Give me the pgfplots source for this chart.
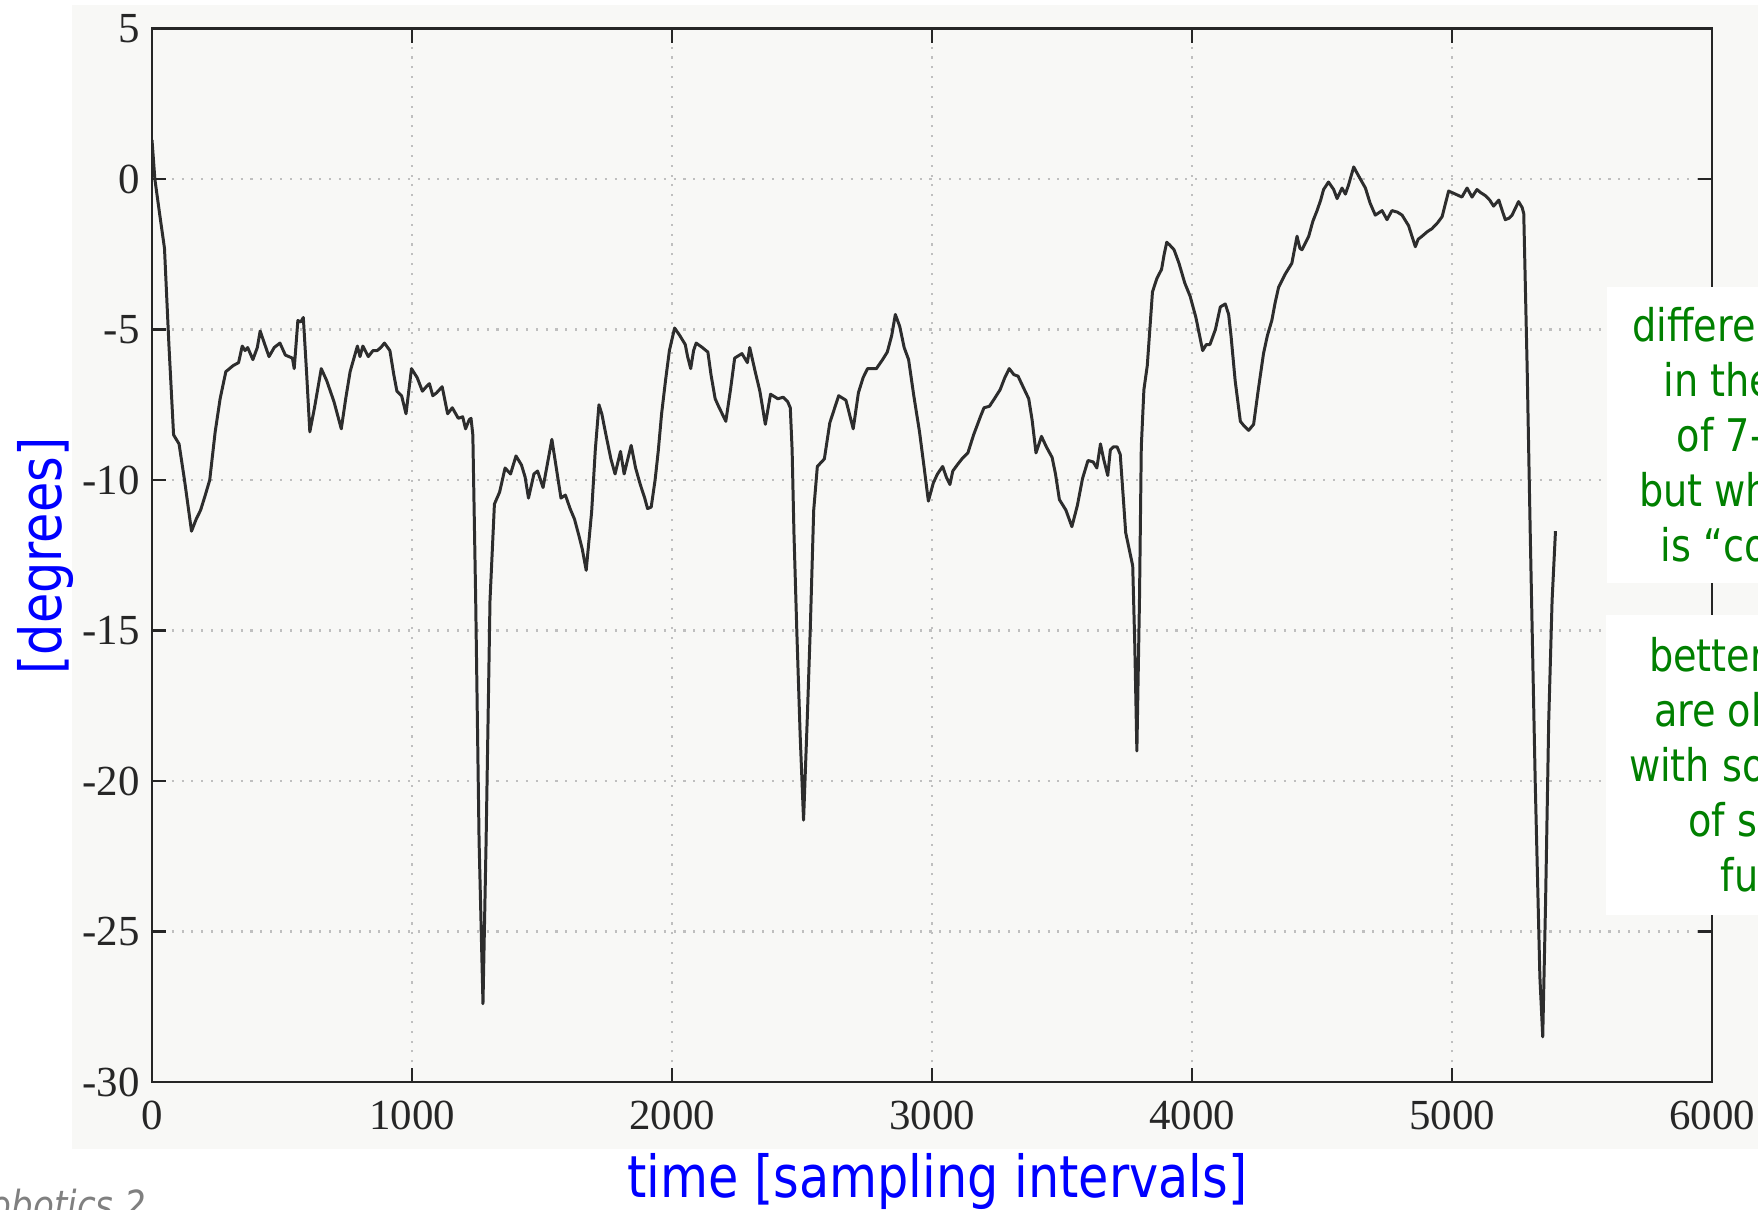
\documentclass[border=0pt]{standalone}
\usepackage{pgfplots}
\pgfplotsset{compat=1.18}
\usepackage{fontspec}
\setmainfont{Liberation Serif}
\newfontfamily\tah[FakeStretch=0.85]{DejaVu Sans}
\definecolor{bgscan}{RGB}{248,248,246}
\definecolor{gtxt}{RGB}{0,128,0}
\definecolor{btxt}{RGB}{0,0,255}
\definecolor{curve}{RGB}{45,45,45}
\begin{document}
\begin{tikzpicture}[x=1cm,y=1cm]
\path[use as bounding box] (0,0) rectangle (17.58,-12.10);
\fill[bgscan] (0.72,-0.05) rectangle (17.58,-11.49);
\begin{axis}[
  at={(1.52cm,-10.82cm)}, anchor=south west,
  scale only axis, width=15.6cm, height=10.535cm,
  xmin=0, xmax=6000, ymin=-30, ymax=5,
  xtick={0,1000,...,6000}, ytick={-30,-25,...,5},
  tick align=inside, major tick length=0.14cm,
  grid=major,
  grid style={line width=0.6pt, color=black!25, dash pattern=on 0.6pt off 2.2pt},
  axis line style={line width=0.8pt, color=black!85},
  tick style={line width=0.8pt, color=black!85},
  every tick label/.append style={font=\fontsize{12.2}{14}\selectfont, text=black!85},
  /pgf/number format/assume math mode=true,
  xticklabel style={/pgf/number format/1000 sep={}, yshift=-2pt},
  scaled x ticks=false,
]
\addplot[curve, line width=0.85pt, line join=round] coordinates {
(0,1.3) (11,0.0) (30,-1.2) (48,-2.3) (65,-5.5) (83,-8.5) (104,-8.8) (125,-10.0) (152,-11.7) (170,-11.3) (187,-11.0) (205,-10.5) (222,-10.0) (243,-8.4) (262,-7.3) (284,-6.4) (312,-6.2) (333,-6.1) (347,-5.55) (358,-5.7) (368,-5.6) (388,-6.0) (405,-5.6) (416,-5.05) (430,-5.4) (450,-5.9) (470,-5.6) (492,-5.45) (513,-5.85) (540,-5.95) (547,-6.3) (561,-4.7) (572,-4.75) (582,-4.6) (595,-6.5) (607,-8.4) (625,-7.6) (651,-6.3) (672,-6.7) (700,-7.4) (728,-8.3) (745,-7.3) (762,-6.4) (790,-5.55) (800,-5.9) (811,-5.55) (832,-5.9) (850,-5.7) (866,-5.7) (880,-5.6) (894,-5.45) (915,-5.7) (930,-6.5) (942,-7.05) (960,-7.2) (977,-7.8) (998,-6.3) (1020,-6.6) (1040,-7.05) (1055,-6.9) (1067,-6.8) (1080,-7.2) (1095,-7.1) (1116,-6.9) (1137,-7.8) (1155,-7.6) (1178,-7.95) (1195,-7.9) (1206,-8.3) (1220,-8.0) (1227,-7.95) (1234,-8.5) (1245,-14.0) (1258,-22.0) (1273,-27.4) (1285,-22.0) (1300,-14.0) (1317,-10.8) (1337,-10.4) (1358,-9.6) (1379,-9.8) (1400,-9.2) (1421,-9.5) (1435,-9.9) (1448,-10.6) (1469,-9.8) (1483,-9.7) (1504,-10.25) (1520,-9.5) (1538,-8.65) (1555,-9.6) (1573,-10.6) (1590,-10.5) (1608,-10.95) (1625,-11.3) (1642,-11.85) (1655,-12.3) (1670,-13.0) (1691,-11.05) (1705,-9.0) (1719,-7.5) (1730,-7.8) (1746,-8.5) (1765,-9.3) (1781,-9.8) (1802,-9.05) (1816,-9.8) (1830,-9.3) (1843,-8.85) (1860,-9.6) (1878,-10.15) (1895,-10.6) (1906,-10.95) (1920,-10.9) (1935,-10.0) (1947,-9.05) (1960,-7.8) (1975,-6.7) (1990,-5.7) (2010,-4.95) (2030,-5.2) (2051,-5.5) (2060,-5.9) (2072,-6.3) (2083,-5.7) (2093,-5.45) (2117,-5.6) (2138,-5.75) (2150,-6.5) (2166,-7.3) (2179,-7.55) (2207,-8.05) (2225,-7.0) (2241,-5.95) (2269,-5.8) (2290,-6.1) (2299,-5.6) (2320,-6.4) (2338,-7.05) (2359,-8.15) (2379,-7.15) (2407,-7.3) (2428,-7.25) (2445,-7.4) (2455,-7.6) (2462,-9.0) (2469,-11.75) (2480,-15.0) (2493,-18.5) (2506,-21.3) (2520,-18.0) (2532,-14.9) (2545,-11.0) (2559,-9.55) (2586,-9.3) (2607,-8.1) (2641,-7.2) (2669,-7.35) (2697,-8.3) (2717,-7.1) (2735,-6.6) (2752,-6.3) (2786,-6.3) (2810,-6.0) (2828,-5.75) (2845,-5.2) (2859,-4.5) (2876,-4.9) (2893,-5.6) (2910,-6.0) (2930,-7.2) (2952,-8.4) (2970,-9.6) (2986,-10.7) (3005,-10.1) (3021,-9.8) (3041,-9.55) (3055,-9.9) (3069,-10.15) (3080,-9.7) (3097,-9.5) (3115,-9.3) (3138,-9.1) (3160,-8.5) (3186,-7.9) (3200,-7.6) (3221,-7.55) (3240,-7.3) (3262,-7.0) (3280,-6.6) (3297,-6.3) (3315,-6.5) (3331,-6.55) (3350,-6.9) (3372,-7.3) (3385,-8.0) (3400,-9.1) (3421,-8.55) (3440,-8.9) (3462,-9.25) (3475,-9.8) (3490,-10.65) (3515,-11.0) (3538,-11.55) (3559,-10.85) (3579,-9.95) (3600,-9.35) (3620,-9.4) (3634,-9.6) (3648,-8.8) (3660,-9.3) (3676,-9.85) (3686,-9.0) (3697,-8.9) (3712,-8.9) (3724,-9.15) (3735,-10.5) (3745,-11.75) (3772,-12.85) (3780,-15.5) (3788,-19.0) (3798,-14.0) (3805,-8.9) (3815,-7.0) (3828,-6.2) (3848,-3.75) (3865,-3.3) (3883,-3.0) (3893,-2.5) (3903,-2.1) (3915,-2.2) (3931,-2.35) (3950,-2.8) (3972,-3.45) (3993,-3.9) (4015,-4.6) (4041,-5.7) (4055,-5.5) (4069,-5.5) (4090,-5.0) (4109,-4.25) (4128,-4.15) (4141,-4.5) (4150,-5.2) (4166,-6.7) (4186,-8.05) (4200,-8.2) (4218,-8.35) (4237,-8.15) (4255,-7.0) (4275,-5.8) (4290,-5.2) (4307,-4.7) (4320,-4.1) (4333,-3.6) (4359,-3.15) (4384,-2.8) (4404,-1.9) (4415,-2.3) (4423,-2.35) (4449,-1.9) (4465,-1.4) (4481,-1.05) (4495,-0.7) (4506,-0.35) (4525,-0.1) (4545,-0.35) (4558,-0.65) (4577,-0.3) (4590,-0.5) (4602,-0.2) (4622,0.4) (4641,0.1) (4667,-0.3) (4685,-0.8) (4705,-1.2) (4731,-1.05) (4750,-1.35) (4769,-1.05) (4790,-1.1) (4808,-1.2) (4833,-1.55) (4859,-2.25) (4870,-2.0) (4885,-1.9) (4905,-1.75) (4923,-1.65) (4945,-1.45) (4962,-1.25) (4987,-0.4) (5013,-0.5) (5038,-0.6) (5058,-0.3) (5077,-0.6) (5096,-0.35) (5110,-0.45) (5128,-0.55) (5145,-0.7) (5160,-0.9) (5180,-0.7) (5195,-1.1) (5205,-1.35) (5220,-1.3) (5231,-1.2) (5256,-0.75) (5270,-0.95) (5276,-1.15) (5289,-6.25) (5301,-11.8) (5320,-20.0) (5338,-26.5) (5349,-28.5) (5360,-24.0) (5372,-18.0) (5385,-14.0) (5398,-11.7)
};
\end{axis}
% overlay text boxes
\fill[white] (16.07,-2.87) rectangle (17.58,-5.83);
\fill[white] (16.06,-6.15) rectangle (17.58,-9.15);
\begin{scope}[every node/.style={inner sep=0pt, anchor=base west, text=gtxt, font=\tah\fontsize{12.8}{15}\selectfont}]
\node at (16.317,-3.417) {differences};
\node at (16.627,-3.967) {in the range};
\node at (16.76,-4.517) {of 7-10 deg};
\node at (16.383,-5.067) {but which one};
\node at (16.60,-5.617) {is “correct”?};
\node at (16.483,-6.717) {better results};
\node at (16.533,-7.267) {are obtained};
\node at (16.283,-7.817) {with some kind};
\node at (16.873,-8.367) {of sensor};
\node at (17.20,-8.917) {fusion};
\end{scope}
\node[inner sep=0pt, anchor=base, text=btxt, font=\tah\fontsize{16.5}{19}\selectfont] at (9.375,-11.97) {time [sampling intervals]};
\node[inner sep=0pt, anchor=base, rotate=90, text=btxt, font=\tah\fontsize{16.5}{19}\selectfont] at (0.617,-5.56) {[degrees]};
\node[inner sep=0pt, anchor=base east, text=black!50, font=\tah\itshape\fontsize{11.4}{13}\selectfont] at (1.467,-12.19) {Robotics 2};
\end{tikzpicture}
\end{document}
